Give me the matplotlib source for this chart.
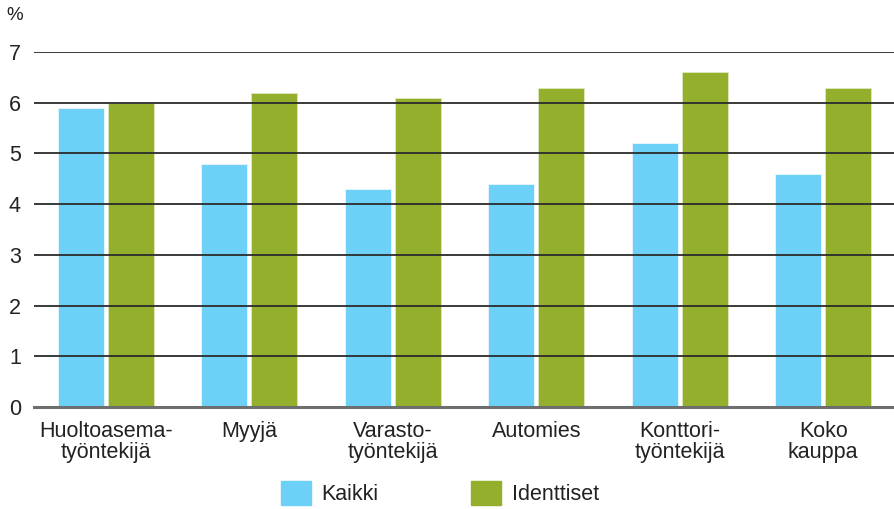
import matplotlib
matplotlib.use("Agg")
import matplotlib.pyplot as plt
import numpy as np
from matplotlib.patches import Patch

categories = ["Huoltoasema-\ntyöntekijä", "Myyjä", "Varasto-\ntyöntekijä", "Automies", "Konttori-\ntyöntekijä", "Koko\nkauppa"]
kaikki = [5.9, 4.8, 4.3, 4.4, 5.2, 4.6]
identtiset = [6.0, 6.2, 6.1, 6.3, 6.6, 6.3]
yticks = [0, 1, 2, 3, 4, 5, 6, 7]

plt.rcParams['font.family'] = ['Liberation Sans', 'DejaVu Sans']

blue = "#6dd0f6"
green = "#93af2c"

fig = plt.figure(figsize=(8.95, 5.09), dpi=100)
ax = fig.add_axes([34/895, 1-407/509, 1-34/895, (407-52)/509])

x = np.arange(len(categories))
w = 0.32
gap = 0.028
ax.bar(x - w/2 - gap/2, kaikki, w, color=blue, edgecolor="#e8f7fd", linewidth=0.6, zorder=1)
ax.bar(x + w/2 + gap/2, identtiset, w, color=green, edgecolor="#dfe8c0", linewidth=0.6, zorder=1)

ax.set_xlim(-0.5, len(categories) - 0.5)
ax.set_ylim(0, 7)
ax.set_yticks(yticks)
ax.set_yticklabels([str(t) for t in yticks], fontsize=15.5, color="#222222")
for t in yticks[1:]:
    ax.axhline(t, color="#2b2b2b", linewidth=1.3, zorder=3)
ax.axhline(0, color="#6e6e6e", linewidth=2.2, zorder=3, clip_on=False)

ax.set_xticks(x)
ax.set_xticklabels(categories, fontsize=15.5, linespacing=1.0, color="#222222")
ax.tick_params(axis='both', length=0)
ax.tick_params(axis='x', pad=10)
ax.tick_params(axis='y', pad=9.5)
for s in ax.spines.values():
    s.set_visible(False)

fig.text(15/895, 1-15/509, "%", fontsize=13.5, ha="center", va="center", color="#222222")

handles = [Patch(facecolor=blue, edgecolor=blue), Patch(facecolor=green, edgecolor=green)]
fig.legend(handles, ["Kaikki", "Identtiset"], loc="center", bbox_to_anchor=(440/895, 1-493/509),
           ncol=2, frameon=False, fontsize=15.5, handlelength=1.4, handleheight=1.4,
           handletextpad=0.47, columnspacing=4.3, borderpad=0, labelcolor="#222222")

fig.savefig("out.png", dpi=100)
